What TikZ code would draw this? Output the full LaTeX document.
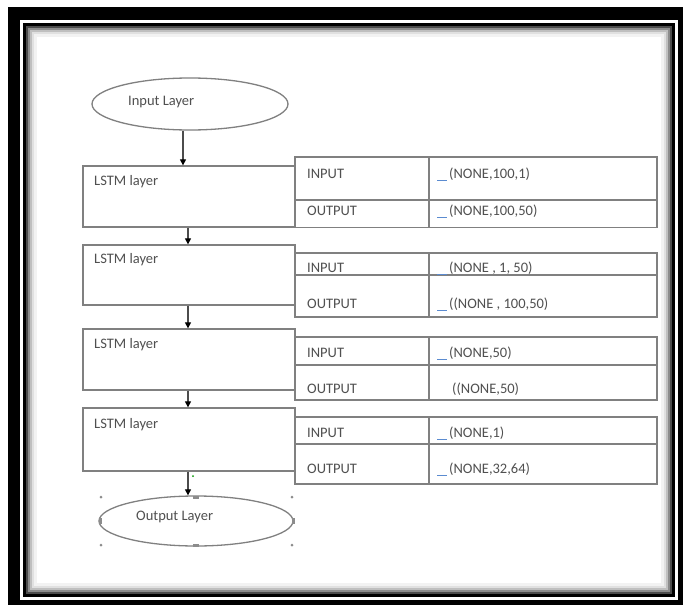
\documentclass[tikz,border=0pt]{standalone}
\usepackage{fontspec}
\setmainfont{Carlito}
\usetikzlibrary{shapes.geometric,arrows.meta}
\definecolor{ink}{HTML}{505050}
\definecolor{edge}{HTML}{808080}
\definecolor{tagblue}{HTML}{5B8BD0}
\newcommand{\tagline}{{\color{tagblue}\rule[-2.5pt]{10pt}{0.9pt}}\hspace{2pt}}
\begin{document}
\begin{tikzpicture}[x=1pt,y=-1pt,
  lbl/.style={font=\fontsize{14.5}{16}\selectfont, text=ink, inner sep=0pt, anchor=west},
  cell/.style={draw=edge, line width=1.3pt, rectangle, inner sep=0pt, fill=white},
  lstmbox/.style={draw=edge, line width=1.3pt, rectangle, inner sep=0pt, minimum width=212pt},
  oval/.style={draw=edge, line width=1.3pt, ellipse, inner sep=0pt},
  arr/.style={draw=black!70, line width=1.2pt, -{Triangle[length=6pt,width=6pt,color=black]}},
  handle/.style={fill=black!45, draw=none, circle, inner sep=0pt, minimum size=3pt}
]
% frame
\useasboundingbox (0,0) rectangle (683,605);
\fill[white] (0,0) rectangle (683,605);
\fill[black] (8,7) rectangle (683,605);
\fill[white] (20,20) rectangle (678,600);
\fill[black] (23,23) rectangle (675,597);
\fill[black!70] (26,26) rectangle (672,594);
\fill[black!45] (28,28) rectangle (670,592);
\fill[black!25] (30,30) rectangle (668,590);
\fill[black!12] (32,32) rectangle (666,588);
\fill[black!5] (34,34) rectangle (664,586);
\fill[white] (37,37) rectangle (661,583);

% input layer
\node[oval, minimum width=196pt, minimum height=52pt] (in) at (190,104) {};
\node[lbl] (intext) at (128,102) {Input Layer};

% LSTM boxes
\node[lstmbox, minimum height=61pt] (b1) at (189,196.5) {};
\node[lstmbox, minimum height=60pt] (b2) at (189,275) {};
\node[lstmbox, minimum height=61pt] (b3) at (189,359.5) {};
\node[lstmbox, minimum height=63pt] (b4) at (189,439.5) {};
\node[lbl] (lt1) at (94,182) {LSTM layer};
\node[lbl] (lt2) at (94,260) {LSTM layer};
\node[lbl] (lt3) at (94,345) {LSTM layer};
\node[lbl] (lt4) at (94,425) {LSTM layer};

% tables
\foreach \i/\top/\mid/\bot in {1/157/200/227.5, 2/253/275/317, 3/337/365/400, 4/417/444/484} {
  \pgfmathsetmacro\ca{(\top+\mid)/2}
  \pgfmathsetmacro\ha{\mid-\top}
  \pgfmathsetmacro\cb{(\mid+\bot)/2}
  \pgfmathsetmacro\hb{\bot-\mid}
  \node[cell, minimum width=134pt, minimum height=\ha pt] (ti\i) at (362,\ca) {};
  \node[cell, minimum width=228pt, minimum height=\ha pt] (vi\i) at (543,\ca) {};
  \node[cell, minimum width=134pt, minimum height=\hb pt] (to\i) at (362,\cb) {};
  \node[cell, minimum width=228pt, minimum height=\hb pt] (vo\i) at (543,\cb) {};
}
\foreach \i/\yi/\yo in {1/174/211, 2/268/304, 3/353/389, 4/433/469} {
  \node[lbl] (li\i) at (307,\yi) {INPUT};
  \node[lbl] (lo\i) at (307,\yo) {OUTPUT};
}
\node[lbl] (v1a) at (437,174) {\tagline(NONE,100,1)};
\node[lbl] (v1b) at (437,211) {\tagline(NONE,100,50)};
\node[lbl] (v2a) at (437,268) {\tagline(NONE , 1, 50)};
\node[lbl] (v2b) at (437,304) {\tagline((NONE , 100,50)};
\node[lbl] (v3a) at (437,353) {\tagline(NONE,50)};
\node[lbl] (v3b) at (452,389) {((NONE,50)};
\node[lbl] (v4a) at (437,433) {\tagline(NONE,1)};
\node[lbl] (v4b) at (437,469) {\tagline(NONE,32,64)};

% output layer
\node[oval, minimum width=194pt, minimum height=50pt] (out) at (196,521) {};
\node[lbl] (outtext) at (136,517) {Output Layer};

% connectors
\coordinate (ax1) at (183,0);
\coordinate (ax2) at (188,0);
\draw[arr] (in.south -| ax1) -- (b1.north -| ax1);
\draw[arr] (b1.south -| ax2) -- (b2.north -| ax2);
\draw[arr] (b2.south -| ax2) -- (b3.north -| ax2);
\draw[arr] (b3.south -| ax2) -- (b4.north -| ax2);
\draw[arr] (b4.south -| ax2) -- (ax2 |- out.north);

% selection handles on output ellipse
\foreach \hx/\hy in {101/497, 292/497, 101/545, 292/545} {
  \node[handle] at (\hx,\hy) {};
}
\fill[black!45] (193,495.5) rectangle (199,498.5);
\fill[black!45] (193,543.5) rectangle (199,546.5);
\fill[black!45] (98.5,518) rectangle (101.5,524);
\fill[black!45] (291.5,518) rectangle (294.5,524);
\fill[green!60!black] (193,476) circle (1pt);
\end{tikzpicture}
\end{document}
